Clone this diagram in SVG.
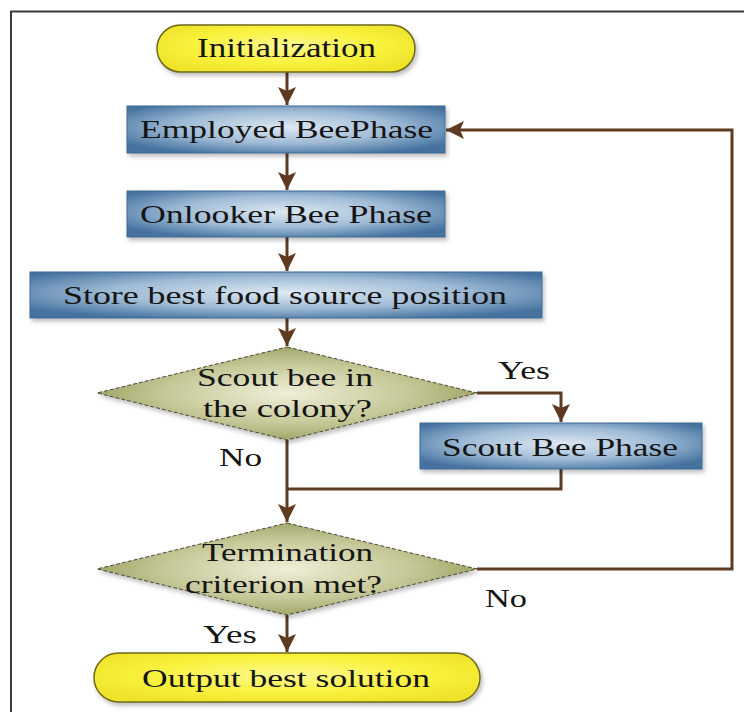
<svg xmlns="http://www.w3.org/2000/svg" width="744" height="712" viewBox="0 0 744 712">
<defs>
<style>
text{font-family:"Liberation Serif","Times New Roman",Times,serif;}
.t{fill:#151515;}
.conn{fill:none;stroke:#5e3a20;stroke-width:3;stroke-linejoin:miter;}
.box{fill:url(#gBlue);stroke:#3f6a94;stroke-width:1;filter:url(#sh);}
.dia{fill:url(#gOlive);stroke:#4a4a38;stroke-width:1;stroke-dasharray:4 2;filter:url(#sh);}
.term{fill:url(#gYel);stroke:#6e6a1e;stroke-width:1.5;filter:url(#sh);}
</style>
<radialGradient id="gBlue" cx="50%" cy="45%" r="62%">
<stop offset="0" stop-color="#dde8f2"/>
<stop offset="0.55" stop-color="#9fbbd6"/>
<stop offset="1" stop-color="#44729f"/>
</radialGradient>
<radialGradient id="gOlive" cx="50%" cy="50%" r="55%">
<stop offset="0" stop-color="#eeefd9"/>
<stop offset="0.6" stop-color="#c4c795"/>
<stop offset="1" stop-color="#989d5e"/>
</radialGradient>
<radialGradient id="gYel" cx="50%" cy="45%" r="60%">
<stop offset="0" stop-color="#fdf990"/>
<stop offset="0.6" stop-color="#f9f23c"/>
<stop offset="1" stop-color="#efe32a"/>
</radialGradient>
<filter id="sh" x="-10%" y="-20%" width="125%" height="150%">
<feDropShadow dx="2" dy="3" stdDeviation="2" flood-color="#000" flood-opacity="0.25"/>
</filter>
<marker id="ah" markerUnits="userSpaceOnUse" markerWidth="20" markerHeight="20" viewBox="0 0 20 20" refX="18" refY="10" orient="auto">
<path d="M0,1 L18,10 L0,19 L4,10 z" fill="#5e3a20"/>
</marker>
</defs>

<g id="frame">
<path d="M11,712 V11.5 H744" fill="none" stroke="#3a3a3a" stroke-width="2"/>
</g>

<g id="connectors">
<path class="conn" d="M287,72 V105" marker-end="url(#ah)"/>
<path class="conn" d="M287,153 V190" marker-end="url(#ah)"/>
<path class="conn" d="M287,237 V271" marker-end="url(#ah)"/>
<path class="conn" d="M287,318 V346" marker-end="url(#ah)"/>
<path class="conn" d="M477,393 H561 V422" marker-end="url(#ah)"/>
<path class="conn" d="M561,469 V489 H287"/>
<path class="conn" d="M287,440 V522" marker-end="url(#ah)"/>
<path class="conn" d="M477,569 H732 V130 H446" marker-end="url(#ah)"/>
<path class="conn" d="M287,615 V652" marker-end="url(#ah)"/>
</g>

<g id="initialization">
<rect class="term" x="157" y="25" width="258" height="47" rx="23.5"/>
<text class="t" x="197" y="57" font-size="28" textLength="179" lengthAdjust="spacingAndGlyphs">Initialization</text>
</g>

<g id="employed">
<rect class="box" x="127" y="106" width="318" height="47"/>
<text class="t" x="140" y="138" font-size="26" textLength="293" lengthAdjust="spacingAndGlyphs">Employed BeePhase</text>
</g>

<g id="onlooker">
<rect class="box" x="127" y="191" width="318" height="46"/>
<text class="t" x="140" y="223" font-size="26" textLength="292" lengthAdjust="spacingAndGlyphs">Onlooker Bee Phase</text>
</g>

<g id="store">
<rect class="box" x="30" y="272" width="512" height="46"/>
<text class="t" x="63" y="304" font-size="26" textLength="444" lengthAdjust="spacingAndGlyphs">Store best food source position</text>
</g>

<g id="scoutDecision">
<polygon class="dia" points="287,347 477,393 287,440 97,393"/>
<text class="t" x="197" y="386" font-size="26" textLength="176" lengthAdjust="spacingAndGlyphs">Scout bee in</text>
<text class="t" x="203" y="417" font-size="26" textLength="169" lengthAdjust="spacingAndGlyphs">the colony?</text>
</g>

<g id="scoutPhase">
<rect class="box" x="420" y="423" width="282" height="46"/>
<text class="t" x="442" y="456" font-size="26" textLength="236" lengthAdjust="spacingAndGlyphs">Scout Bee Phase</text>
</g>

<g id="terminationDecision">
<polygon class="dia" points="287,523 477,569 287,615 97,569"/>
<text class="t" x="202" y="561" font-size="26" textLength="171" lengthAdjust="spacingAndGlyphs">Termination</text>
<text class="t" x="185" y="593" font-size="26" textLength="197" lengthAdjust="spacingAndGlyphs">criterion met?</text>
</g>

<g id="output">
<rect class="term" x="94" y="653" width="386" height="49" rx="24.5"/>
<text class="t" x="142" y="687" font-size="26" textLength="288" lengthAdjust="spacingAndGlyphs">Output best solution</text>
</g>

<g id="labels">
<text class="t" x="498" y="379" font-size="26" textLength="52" lengthAdjust="spacingAndGlyphs">Yes</text>
<text class="t" x="219" y="466" font-size="26" textLength="43" lengthAdjust="spacingAndGlyphs">No</text>
<text class="t" x="485" y="607" font-size="26" textLength="42" lengthAdjust="spacingAndGlyphs">No</text>
<text class="t" x="203" y="643" font-size="26" textLength="54" lengthAdjust="spacingAndGlyphs">Yes</text>
</g>
</svg>
